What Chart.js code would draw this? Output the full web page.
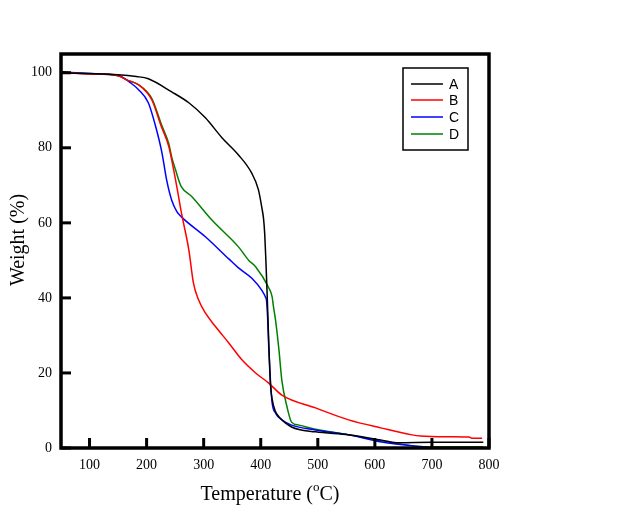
<!DOCTYPE html>
<html>
<head>
<meta charset="utf-8">
<script src="https://cdn.jsdelivr.net/npm/chart.js@4"></script>
<style>
  body { margin: 0; background: #fff; }
  #wrap { width: 618px; height: 523px; }
</style>
</head>
<body>
<div id="wrap"><canvas id="tgaChart" width="618" height="523"></canvas></div>
<script>
// tick labels
const xTicks = [100, 200, 300, 400, 500, 600, 700, 800];
const yTicks = [0, 20, 40, 60, 80, 100];

// series (temperature in C, weight in %)
const tempA = [50, 60, 100, 150, 182, 203, 244, 274, 303, 332, 361, 384, 396, 402, 405, 407, 409, 411, 413, 415, 417, 420, 425, 432, 454, 496, 554, 612, 642, 700, 790];
const weightA = [100.3, 100, 99.8, 99.5, 99, 98.4, 94.9, 92, 88, 82.7, 78.1, 73.3, 68.8, 64, 61, 57, 50, 42, 33, 24, 17, 13, 10, 8.3, 5.6, 4.3, 3.5, 2.1, 1.4, 1.5, 1.5];

const tempB = [50, 100, 150, 165, 186, 209, 226, 239, 244, 253, 261, 274, 282, 291, 303, 321, 344, 367, 391, 414, 437, 496, 554, 612, 665, 680, 730, 765, 770, 788];
const weightB = [100.2, 99.7, 99.2, 98.1, 96.8, 92.8, 85.6, 80.3, 76.8, 69.6, 62.7, 52.8, 44, 39.5, 36, 32.3, 28, 23.5, 20, 17.3, 14.1, 10.7, 7.5, 5.3, 3.5, 3.2, 3, 2.9, 2.6, 2.6];

const tempC = [50, 100, 150, 172, 186, 203, 216, 227, 235, 244, 253, 261, 303, 344, 361, 384, 402, 409, 410, 412, 414, 417, 420, 426, 437, 454, 496, 554, 612, 672, 690];
const weightC = [100.2, 99.8, 99.3, 97.3, 95.5, 92, 85.6, 78.6, 71.5, 66, 63, 61.6, 56.3, 50.4, 48, 45.3, 42, 40, 39.5, 35, 27, 18, 12, 9.3, 7.5, 6.1, 4.8, 3.5, 1.6, 0.5, 0.3];

const tempD = [50, 100, 150, 165, 186, 209, 226, 239, 244, 251, 256, 261, 279, 314, 361, 379, 391, 414, 420, 422, 426, 432, 437, 446, 454, 467, 496, 554, 612, 672, 700, 790];
const weightD = [100.2, 99.7, 99.2, 98.1, 96.8, 93.2, 86.2, 81, 77.5, 74, 71.5, 69.6, 67, 60.8, 53.6, 50, 48.3, 42.7, 40.3, 38, 34, 26, 18, 11, 6.9, 6.1, 5, 3.5, 1.9, 0.5, 0.3, 0.3];

const labels = ["A", "B", "C", "D"];
const colors = ["#000000", "#ff0000", "#0000ff", "#008000"];

function toPoints(xs, ys) {
  return xs.map((x, i) => ({ x: x, y: ys[i] }));
}

const series = [
  toPoints(tempA, weightA),
  toPoints(tempB, weightB),
  toPoints(tempC, weightC),
  toPoints(tempD, weightD),
];

// frame, inward ticks, axis titles and legend box
const framePlugin = {
  id: "frame",
  afterDraw(chart) {
    const ctx = chart.ctx;
    const a = chart.chartArea;
    const xs = chart.scales.x;
    const ys = chart.scales.y;
    ctx.save();
    ctx.strokeStyle = "#000";
    ctx.lineWidth = 3;
    xTicks.forEach((v) => {
      const px = xs.getPixelForValue(v);
      ctx.beginPath();
      ctx.moveTo(px, a.bottom);
      ctx.lineTo(px, a.bottom - 10);
      ctx.stroke();
    });
    yTicks.forEach((v) => {
      const py = ys.getPixelForValue(v);
      ctx.beginPath();
      ctx.moveTo(a.left, py);
      ctx.lineTo(a.left + 10, py);
      ctx.stroke();
    });
    ctx.lineWidth = 3.5;
    ctx.strokeRect(a.left, a.top, a.right - a.left, a.bottom - a.top);

    // x title with superscript o
    ctx.fillStyle = "#000";
    ctx.textBaseline = "alphabetic";
    ctx.textAlign = "left";
    const big = "20px 'Liberation Serif', 'Times New Roman', serif";
    const small = "13px 'Liberation Serif', 'Times New Roman', serif";
    const p1 = "Temperature (";
    const p2 = "o";
    const p3 = "C)";
    ctx.font = big;
    const w1 = ctx.measureText(p1).width;
    const w3 = ctx.measureText(p3).width;
    ctx.font = small;
    const w2 = ctx.measureText(p2).width;
    let tx = 270 - (w1 + w2 + w3) / 2;
    const ty = 500;
    ctx.font = big;
    ctx.fillText(p1, tx, ty);
    tx += w1;
    ctx.font = small;
    ctx.fillText(p2, tx, ty - 9);
    tx += w2;
    ctx.font = big;
    ctx.fillText(p3, tx, ty);

    // y title
    ctx.save();
    ctx.translate(24, 240);
    ctx.rotate(-Math.PI / 2);
    ctx.textAlign = "center";
    ctx.font = big;
    ctx.fillText("Weight (%)", 0, 0);
    ctx.restore();

    // legend
    ctx.lineWidth = 1.5;
    ctx.strokeRect(403, 68, 65, 82);
    ctx.font = "14px 'Liberation Sans', Arial, sans-serif";
    ctx.textBaseline = "middle";
    const rows = [84, 100, 117, 134];
    chart.data.datasets.forEach((ds, i) => {
      ctx.strokeStyle = ds.borderColor;
      ctx.beginPath();
      ctx.moveTo(411, rows[i]);
      ctx.lineTo(443, rows[i]);
      ctx.stroke();
      ctx.fillStyle = "#000";
      ctx.fillText(ds.label, 449, rows[i] + 1);
    });
    ctx.restore();
  },
};

const tickFont = { family: "'Liberation Serif', 'Times New Roman', serif", size: 14 };

new Chart(document.getElementById("tgaChart").getContext("2d"), {
  type: "line",
  data: {
    datasets: series.map((pts, i) => ({
      label: labels[i],
      data: pts,
      borderColor: colors[i],
      backgroundColor: "transparent",
      borderWidth: 1.5,
      pointRadius: 0,
      cubicInterpolationMode: "monotone",
      fill: false,
    })),
  },
  options: {
    responsive: false,
    animation: false,
    layout: { padding: { top: 54, right: 129, left: 0, bottom: 0 } },
    plugins: { legend: { display: false }, tooltip: { enabled: false } },
    scales: {
      x: {
        type: "linear",
        min: 50,
        max: 800,
        afterBuildTicks: (s) => { s.ticks = xTicks.map((v) => ({ value: v })); },
        afterFit: (s) => { s.height = 75; },
        grid: { display: false, drawTicks: false },
        border: { display: false },
        ticks: { font: tickFont, color: "#000", padding: 9, maxRotation: 0 },
      },
      y: {
        min: 0,
        max: 105,
        afterBuildTicks: (s) => { s.ticks = yTicks.map((v) => ({ value: v })); },
        afterFit: (s) => { s.width = 61; },
        grid: { display: false, drawTicks: false },
        border: { display: false },
        ticks: { font: tickFont, color: "#000", padding: 9 },
      },
    },
  },
  plugins: [framePlugin],
});
</script>
</body>
</html>
